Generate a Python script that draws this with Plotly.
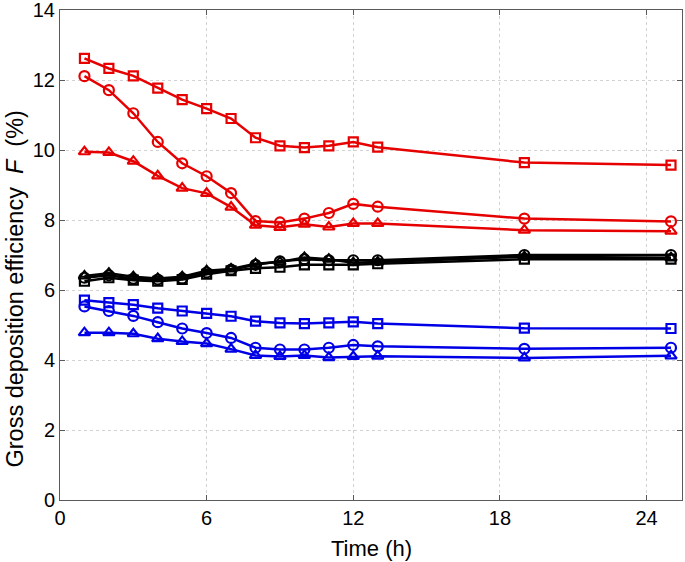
import plotly.graph_objects as go

time_h = [1, 2, 3, 4, 5, 6, 7, 8, 9, 10, 11, 12, 13, 19, 25]

red_square = [12.62, 12.33, 12.12, 11.77, 11.44, 11.18, 10.90, 10.35, 10.12, 10.07, 10.12, 10.23, 10.08, 9.64, 9.57]
red_circle = [12.11, 11.71, 11.05, 10.23, 9.62, 9.25, 8.77, 7.97, 7.93, 8.04, 8.20, 8.46, 8.38, 8.04, 7.96]
red_triangle = [9.95, 9.93, 9.68, 9.26, 8.91, 8.76, 8.37, 7.85, 7.79, 7.88, 7.80, 7.90, 7.90, 7.71, 7.68]

black_square = [6.25, 6.35, 6.28, 6.25, 6.30, 6.45, 6.55, 6.62, 6.65, 6.72, 6.72, 6.72, 6.75, 6.88, 6.88]
black_circle = [6.35, 6.42, 6.32, 6.30, 6.33, 6.50, 6.58, 6.72, 6.82, 6.88, 6.85, 6.85, 6.85, 7.00, 7.00]
black_triangle = [6.40, 6.48, 6.38, 6.33, 6.38, 6.55, 6.60, 6.75, 6.80, 6.93, 6.88, 6.78, 6.80, 6.95, 6.92]

blue_square = [5.71, 5.64, 5.58, 5.48, 5.40, 5.33, 5.25, 5.11, 5.06, 5.04, 5.06, 5.09, 5.04, 4.91, 4.90]
blue_circle = [5.53, 5.40, 5.26, 5.08, 4.90, 4.77, 4.63, 4.35, 4.30, 4.30, 4.35, 4.43, 4.39, 4.32, 4.35]
blue_triangle = [4.78, 4.78, 4.75, 4.61, 4.53, 4.47, 4.31, 4.13, 4.10, 4.13, 4.07, 4.10, 4.11, 4.06, 4.12]

x_ticks = [0, 6, 12, 18, 24]
y_ticks = [0, 2, 4, 6, 8, 10, 12, 14]

RED = "rgb(230,0,0)"
BLACK = "rgb(0,0,0)"
BLUE = "rgb(0,0,230)"
FONT = "Liberation Sans, Arial, sans-serif"

series = [
    (red_square, RED, "square-open", 9),
    (red_circle, RED, "circle-open", 10),
    (red_triangle, RED, "triangle-up-open", 10),
    (black_square, BLACK, "square-open", 9),
    (black_circle, BLACK, "circle-open", 10),
    (black_triangle, BLACK, "triangle-up-open", 10),
    (blue_square, BLUE, "square-open", 9),
    (blue_circle, BLUE, "circle-open", 10),
    (blue_triangle, BLUE, "triangle-up-open", 10),
]

fig = go.Figure()
for vals, col, sym, sz in series:
    fig.add_trace(go.Scatter(
        x=time_h, y=vals, mode="lines+markers",
        line=dict(color=col, width=2.5),
        marker=dict(symbol=sym, size=sz, color=col, line=dict(color=col, width=2.2)),
        showlegend=False,
    ))

axis_common = dict(
    showline=True, linecolor="rgb(90,90,90)", linewidth=1, mirror="ticks",
    ticks="inside", ticklen=5, tickcolor="rgb(90,90,90)",
    showgrid=True, gridcolor="rgb(210,210,210)", griddash="dot", gridwidth=1,
    zeroline=False, automargin=False, ticklabeloverflow="allow",
    tickfont=dict(family=FONT, size=20, color="black"),
)

fig.update_xaxes(range=[0, 25.45], tickvals=x_ticks, **axis_common)
fig.update_yaxes(range=[0, 14], tickvals=y_ticks, **axis_common)

fig.add_annotation(text="Time (h)", xref="paper", yref="paper", x=0.5, y=-0.098,
                   xanchor="center", yanchor="middle", showarrow=False,
                   font=dict(family=FONT, size=22, color="black"))
fig.add_annotation(text="Gross deposition efficiency  <i>F</i>  (%)", xref="paper", yref="paper",
                   x=-0.072, y=0.43, xanchor="center", yanchor="middle", textangle=-90,
                   showarrow=False, font=dict(family=FONT, size=23.5, color="black"))

fig.update_layout(
    template="none",
    width=685, height=562,
    margin=dict(l=60, r=3, t=10, b=62),
    paper_bgcolor="white", plot_bgcolor="white",
)

fig.write_html("out.html", config={"displayModeBar": False},
               post_script="document.body.style.margin='0px';document.body.style.overflow='hidden';")
